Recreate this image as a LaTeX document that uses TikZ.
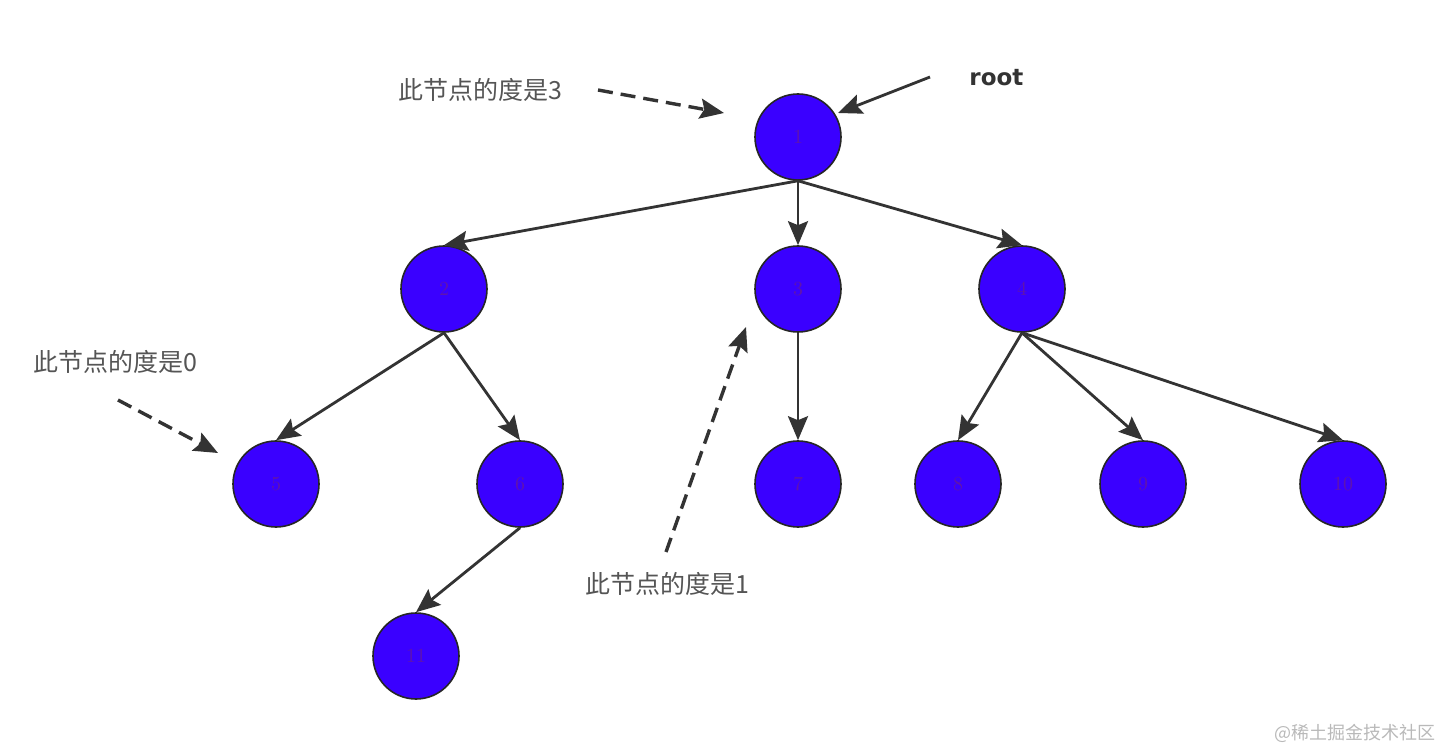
\documentclass[tikz,border=0pt]{standalone}
\usepackage{fontspec}
\newfontfamily\cjk{Noto Sans CJK SC}
\newfontfamily\rootfont{DejaVu Sans}
\usetikzlibrary{arrows.meta}
\definecolor{nodefill}{RGB}{58,0,255}
\definecolor{nodetext}{RGB}{95,20,175}
\definecolor{edgecol}{RGB}{51,51,51}
\definecolor{labelcol}{RGB}{85,85,85}
\definecolor{wmcol}{RGB}{185,185,185}
\tikzset{
  treenode/.style={circle, minimum size=43pt, inner sep=0pt, fill=nodefill, draw=black!85, line width=0.8pt, text=nodetext, font=\fontsize{10}{11}\selectfont},
  edge/.style={draw=edgecol, line width=1.4pt, -{Stealth[length=12pt,width=10pt,inset=2pt]}},
  note/.style={draw=edgecol, line width=1.7pt, dash pattern=on 7.5pt off 4pt, -{Stealth[length=12pt,width=10pt,inset=2pt]}},
  notetext/.style={text=labelcol, font=\cjk\fontsize{12.5}{14}\selectfont, inner sep=0pt},
}
\begin{document}
\begin{tikzpicture}[x=0.5pt, y=-0.5pt]
\useasboundingbox (0,0) rectangle (1440,753);
% tree nodes
\node[treenode] (n1) at (798,137) {1};
\node[treenode] (n2) at (444,289) {2};
\node[treenode] (n3) at (798,289) {3};
\node[treenode] (n4) at (1022,289) {4};
\node[treenode] (n5) at (276,484) {5};
\node[treenode] (n6) at (520,484) {6};
\node[treenode] (n7) at (798,484) {7};
\node[treenode] (n8) at (958,484) {8};
\node[treenode] (n9) at (1143,484) {9};
\node[treenode] (n10) at (1343,484) {10};
\node[treenode] (n11) at (416,656) {11};
% edges
\draw[edge] (n1.south) -- (n2.north);
\draw[edge] (n1.south) -- (n3.north);
\draw[edge] (n1.south) -- (n4.north);
\draw[edge] (n2.south) -- (n5.north);
\draw[edge] (n2.south) -- (n6.north);
\draw[edge] (n3.south) -- (n7.north);
\draw[edge] (n4.south) -- (n8.north);
\draw[edge] (n4.south) -- (n9.north);
\draw[edge] (n4.south) -- (n10.north);
\draw[edge] (n6.south) -- (n11.north);
% labels
\node[notetext, anchor=west] (l3) at (398,90) {此节点的度是3};
\node[notetext, anchor=west] (l0) at (33,362) {此节点的度是0};
\node[notetext, anchor=west] (l1) at (585,584) {此节点的度是1};
\node[anchor=west, inner sep=0pt, text=edgecol, font=\rootfont\bfseries\fontsize{11.5}{13}\selectfont] (root) at (969,78) {root};
% free ends
\coordinate (a3s) at (598,90);
\coordinate (a3e) at (724,113);
\coordinate (a0s) at (118,400);
\coordinate (a0e) at (218,453);
\coordinate (a1s) at (666,552);
\coordinate (a1e) at (746,327);
\coordinate (ars) at (930,77);
\coordinate (are) at (838,113);
\draw[note] (a3s) -- (a3e);
\draw[note] (a0s) -- (a0e);
\draw[note] (a1s) -- (a1e);
\draw[edge] (ars) -- (are);
% watermark
\node[anchor=east, inner sep=0pt, text=wmcol, font=\cjk\fontsize{9}{10}\selectfont] (wm) at (1436,733) {@稀土掘金技术社区};
\end{tikzpicture}
\end{document}
